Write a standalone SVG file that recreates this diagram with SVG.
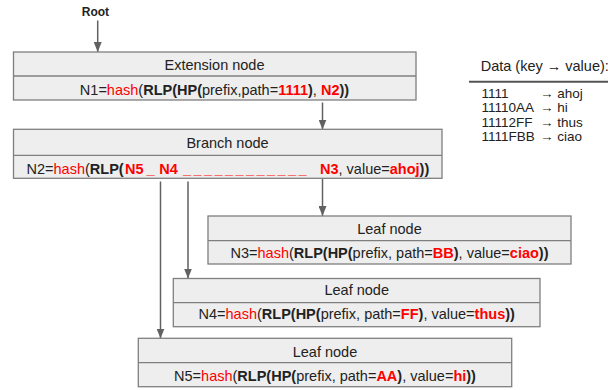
<svg xmlns="http://www.w3.org/2000/svg" width="608" height="390" viewBox="0 0 608 390">
<defs>
<style>
text{font-family:"Liberation Sans",Arial,sans-serif;fill:#222;}
.t{font-size:14.5px;}
.m{text-anchor:middle;}
.r{fill:#ff0000;}
.b{font-weight:bold;}
.br{font-weight:bold;fill:#ff0000;}
.box{fill:#eeeeee;stroke:#7f7f7f;stroke-width:1.3;}
.div{stroke:#7f7f7f;stroke-width:1.3;}
.conn{stroke:#616161;stroke-width:1.5;fill:none;}
.d{font-size:13.5px;}
</style>
<marker id="ah" markerUnits="userSpaceOnUse" markerWidth="10" markerHeight="8" refX="10" refY="4" orient="auto">
<path d="M0,0 L10,4 L0,8 z" fill="#616161"/>
</marker>
</defs>
<rect width="608" height="390" fill="#ffffff"/>

<g id="connectors">
<line class="conn" x1="97.7" y1="20.5" x2="97.7" y2="52" marker-end="url(#ah)"/>
<line class="conn" x1="322.5" y1="102.5" x2="322.5" y2="129.5" marker-end="url(#ah)"/>
<line class="conn" x1="322.5" y1="178.5" x2="322.5" y2="216" marker-end="url(#ah)"/>
<line class="conn" x1="188" y1="181.5" x2="188" y2="278.5" marker-end="url(#ah)"/>
<line class="conn" x1="160.5" y1="181.5" x2="160.5" y2="338.5" marker-end="url(#ah)"/>
</g>

<g id="root">
<text x="95.4" y="15.7" class="m b" style="font-size:12px">Root</text>
</g>

<g id="extension">
<rect class="box" x="13.5" y="52" width="402.5" height="48"/>
<line class="div" x1="13.5" y1="76" x2="416" y2="76"/>
<text x="214.5" y="69.5" class="t m">Extension node</text>
<text x="214.5" y="94.5" class="t m">N1=<tspan class="r">hash</tspan>(<tspan class="b">RLP(HP(</tspan>prefix,path=<tspan class="br">1111</tspan><tspan class="b">)</tspan>, <tspan class="br">N2</tspan><tspan class="b">))</tspan></text>
</g>

<g id="branch">
<rect class="box" x="13.5" y="129.3" width="428.5" height="49"/>
<line class="div" x1="13.5" y1="155.3" x2="442" y2="155.3"/>
<text x="227.5" y="147.7" class="t m">Branch node</text>
<text y="174" class="t"><tspan x="26.5">N2=</tspan><tspan class="r">hash</tspan>(<tspan class="b">RLP(</tspan><tspan class="br" x="125">N5</tspan><tspan class="br" x="146.5">_</tspan><tspan class="br" x="159.3">N4</tspan><tspan class="br" x="183 193.5 204 214.5 225 235.5 246 256.5 267 277.5 288 298.5">____________</tspan><tspan class="br" x="320">N3</tspan>, value=<tspan class="br">ahoj</tspan><tspan class="b">))</tspan></text>
</g>

<g id="n3">
<rect class="box" x="208" y="216" width="363" height="48"/>
<line class="div" x1="208" y1="240.7" x2="571" y2="240.7"/>
<text x="389.5" y="234.3" class="t m">Leaf node</text>
<text x="389.5" y="258.3" class="t m">N3=<tspan class="r">hash</tspan>(<tspan class="b">RLP(HP(</tspan>prefix, path=<tspan class="br">BB</tspan><tspan class="b">)</tspan>, value=<tspan class="br">ciao</tspan><tspan class="b">))</tspan></text>
</g>

<g id="n4">
<rect class="box" x="173.3" y="278.5" width="366.7" height="48.2"/>
<line class="div" x1="173.3" y1="302.7" x2="540" y2="302.7"/>
<text x="356.7" y="295" class="t m">Leaf node</text>
<text x="356.7" y="319.3" class="t m">N4=<tspan class="r">hash</tspan>(<tspan class="b">RLP(HP(</tspan>prefix, path=<tspan class="br">FF</tspan><tspan class="b">)</tspan>, value=<tspan class="br">thus</tspan><tspan class="b">))</tspan></text>
</g>

<g id="n5">
<rect class="box" x="138.3" y="338.3" width="373.4" height="48.4"/>
<line class="div" x1="138.3" y1="362.7" x2="511.7" y2="362.7"/>
<text x="325" y="356.7" class="t m">Leaf node</text>
<text x="325" y="380.5" class="t m">N5=<tspan class="r">hash</tspan>(<tspan class="b">RLP(HP(</tspan>prefix, path=<tspan class="br">AA</tspan><tspan class="b">)</tspan>, value=<tspan class="br">hi</tspan><tspan class="b">))</tspan></text>
</g>

<g id="data">
<text x="480.7" y="70.5" class="t">Data (key → value):</text>
<line x1="469" y1="81.7" x2="608" y2="81.7" stroke="#555" stroke-width="2"/>
<text x="481.5" y="97.5" class="d">1111</text>
<text x="540" y="97.5" class="d">→ ahoj</text>
<text x="481.5" y="112" class="d">11110AA</text>
<text x="540" y="112" class="d">→ hi</text>
<text x="481.5" y="126.5" class="d">11112FF</text>
<text x="540" y="126.5" class="d">→ thus</text>
<text x="481.5" y="141" class="d">1111FBB</text>
<text x="540" y="141" class="d">→ ciao</text>
</g>
</svg>
